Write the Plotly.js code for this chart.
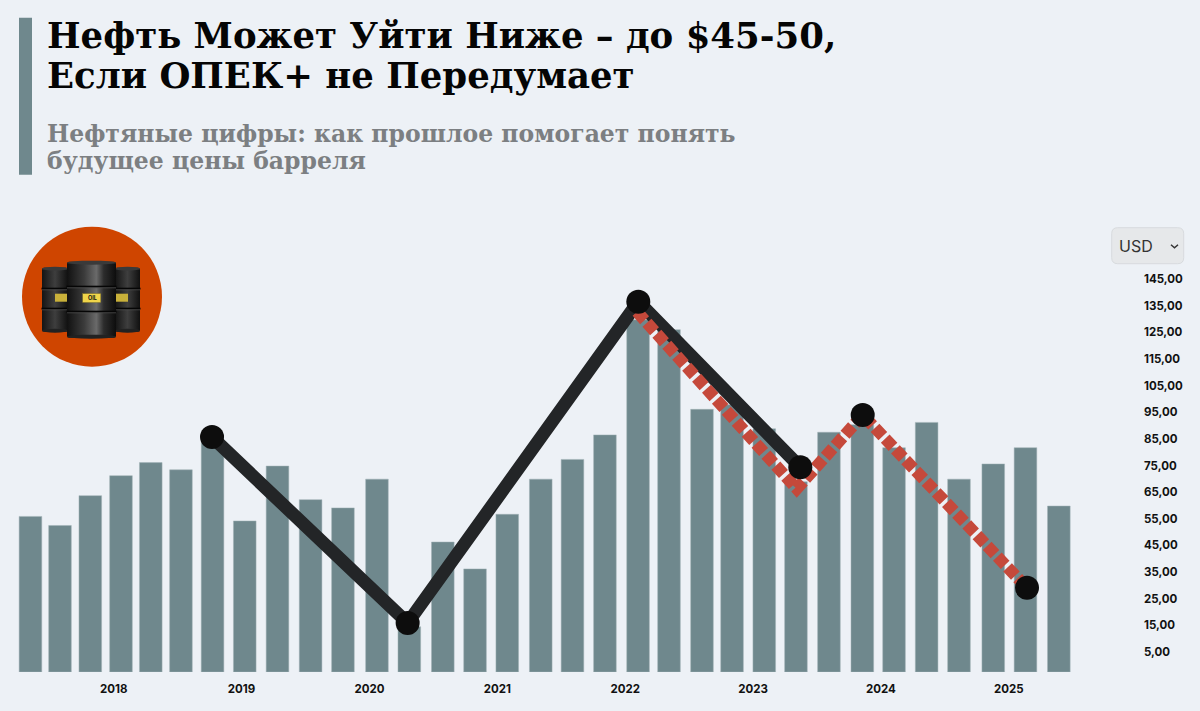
<!DOCTYPE html>
<html><head><meta charset="utf-8">
<script src="https://cdn.plot.ly/plotly-3.0.1.min.js"></script>
<style>html,body{margin:0;padding:0;background:#edf1f6}#c{width:1200px;height:711px}</style></head>
<body><div id="c"></div>
<script>
const periods = [2017.349,2017.580,2017.817,2018.057,2018.290,2018.526,2018.773,2019.025,2019.281,2019.540,2019.793,
  2020.059,2020.312,2020.574,2020.826,2021.078,2021.340,2021.588,2021.842,2022.101,2022.343,2022.601,2022.836,
  2023.088,2023.336,2023.594,2023.855,2024.103,2024.358,2024.611,2024.879,2025.131,2025.392];
const prices = [55.9,52.5,63.7,71.2,76.1,73.4,83.6,54.2,74.8,62.2,59.1,69.9,14.5,46.3,36.2,56.7,69.9,77.3,86.5,
  129.7,126,96.1,97.8,88.8,68.9,87.5,90.3,81.7,91.2,69.9,75.6,81.7,59.8];
const actualX = [2018.769,2020.299,2022.103,2023.370];
const actualY = [85.7,15.9,136.5,74.4];
const forecastX = [2022.093,2023.342,2023.858,2025.143];
const forecastY = [132.7,66.3,94.0,29.1];
const pivotX = [2018.769,2020.299,2022.103,2023.370,2023.858,2025.143];
const pivotY = [85.7,15.9,136.5,74.4,94.0,29.1];
const yearTicks = [2018,2019,2020,2021,2022,2023,2024,2025];
const priceTicks = [5,15,25,35,45,55,65,75,85,95,105,115,125,135,145];
const priceLabels = ["5,00","15,00","25,00","35,00","45,00","55,00","65,00","75,00","85,00","95,00","105,00","115,00","125,00","135,00","145,00"];
const titleLines = ["Нефть Может Уйти Ниже – до $45-50,","Если ОПЕК+ не Передумает"];
const subtitleLines = ["Нефтяные цифры: как прошлое помогает понять","будущее цены барреля"];

const W=1140, TOP=262.3, BOT=672.3, H=BOT-TOP, FLOOR=-2.5;
const px=x=>x/W, py=y=>(BOT-y)/H;
const rect=(x0,y0,x1,y1,extra)=>Object.assign({type:'rect',xref:'paper',yref:'paper',x0:px(x0),x1:px(x1),y0:py(y1),y1:py(y0),line:{width:0}},extra);
const text=(t,x,y,size,color,family,extra)=>Object.assign({text:t,xref:'paper',yref:'paper',x:px(x),y:py(y),xanchor:'left',yanchor:'middle',showarrow:false,align:'left',font:{size:size,color:color,family:family}},extra);
const SERIF='"DejaVu Serif",serif';

const barrel=(x,y,w,h,id)=>`<rect x="${x}" y="${y}" width="${w}" height="${h}" rx="2" fill="url(#${id})"/>`+
 `<ellipse cx="${x+w/2}" cy="${y+1}" rx="${w/2}" ry="2" fill="#3a3a3a"/>`+
 `<ellipse cx="${x+w/2}" cy="${y+h-1}" rx="${w/2}" ry="2" fill="#222"/>`;
const hoop=(x,y,w)=>`<rect x="${x-0.5}" y="${y}" width="${w+1}" height="1.8" fill="#050505"/><rect x="${x}" y="${y+1.8}" width="${w}" height="0.7" fill="#555"/>`;
const svg=`<svg xmlns="http://www.w3.org/2000/svg" viewBox="40 258 102 84" width="408" height="336"><defs>
<linearGradient id="g" x1="0" x2="1" y1="0" y2="0"><stop offset="0" stop-color="#111"/><stop offset=".35" stop-color="#3b3b3b"/><stop offset=".6" stop-color="#6a6a6a"/><stop offset=".75" stop-color="#2c2c2c"/><stop offset="1" stop-color="#0d0d0d"/></linearGradient>
<linearGradient id="s" x1="0" x2="1" y1="0" y2="0"><stop offset="0" stop-color="#141414"/><stop offset=".5" stop-color="#3e3e3e"/><stop offset="1" stop-color="#101010"/></linearGradient></defs>
${barrel(42,268,26,64,'s')}${hoop(42,288,26)}${hoop(42,308,26)}<rect x="55" y="294" width="13" height="8" fill="#c9b13a"/>
${barrel(115,268,25,64,'s')}${hoop(115,288,25)}${hoop(115,308,25)}<rect x="115" y="294" width="13" height="8" fill="#c9b13a"/>
${barrel(67,262,49,76,'g')}${hoop(67,286,49)}${hoop(67,311,49)}<rect x="82.7" y="294" width="18" height="8.7" fill="#f0d54a" stroke="#8a7a20" stroke-width=".4"/>
</svg>`;

const data=[
 {type:'bar',x:periods,y:prices.map(v=>v-FLOOR),base:FLOOR,width:0.177,marker:{color:'#6f888d',line:{color:'#a3b3b6',width:0.5}},hoverinfo:'skip'},
 {type:'scatter',mode:'lines',x:actualX,y:actualY,line:{color:'#232527',width:13},hoverinfo:'skip'},
 {type:'scatter',mode:'lines',x:forecastX,y:forecastY,line:{color:'#c5493b',width:12,dash:'11.3px,3.5px'},hoverinfo:'skip'},
 {type:'scatter',mode:'markers',x:pivotX,y:pivotY,marker:{color:'#0d0d0d',size:24},hoverinfo:'skip'}
];
const layout={
 width:1200,height:711,showlegend:false,paper_bgcolor:'#edf1f6',plot_bgcolor:'rgba(0,0,0,0)',
 margin:{l:0,r:60,t:TOP,b:711-BOT,pad:0},bargap:0,
 xaxis:{range:[2017.1108,2026.0267],tickmode:'array',tickvals:yearTicks,ticktext:yearTicks.map(String),showgrid:false,zeroline:false,showline:false,
   ticks:'outside',ticklen:6,tickcolor:'rgba(0,0,0,0)',tickfont:{family:'Inter',size:11.5,color:'#111',weight:700}},
 yaxis:{range:[FLOOR,FLOOR+H/2.664],side:'right',tickmode:'array',tickvals:priceTicks,ticktext:priceLabels,showgrid:false,zeroline:false,showline:false,
   ticks:'',ticklabelstandoff:3,tickfont:{family:'Inter',size:11.5,color:'#111',weight:700}},
 shapes:[
  rect(19,18,32,175,{fillcolor:'#6f888d'}),
  {type:'circle',xref:'paper',yref:'paper',x0:px(22),x1:px(162),y0:py(367),y1:py(227),fillcolor:'#cf4500',line:{width:0},layer:'below'},
  {type:'path',xref:'paper',yref:'paper',path:(()=>{const a=1111.7,b=1183.7,c=228,d=264,r=6;const X=px,Y=py;
    return `M${X(a+r)},${Y(c)} L${X(b-r)},${Y(c)} Q${X(b)},${Y(c)} ${X(b)},${Y(c+r)} L${X(b)},${Y(d-r)} Q${X(b)},${Y(d)} ${X(b-r)},${Y(d)} L${X(a+r)},${Y(d)} Q${X(a)},${Y(d)} ${X(a)},${Y(d-r)} L${X(a)},${Y(c+r)} Q${X(a)},${Y(c)} ${X(a+r)},${Y(c)} Z`;})(),
    fillcolor:'#e6e8ea',line:{color:'#d8dbde',width:1}},
  {type:'path',xref:'paper',yref:'paper',path:`M${px(1171)},${py(245)} L${px(1174.5)},${py(248)} L${px(1178)},${py(245)}`,line:{color:'#333',width:1.5}}
 ],
 images:[{source:'data:image/svg+xml;charset=utf-8,'+encodeURIComponent(svg),xref:'paper',yref:'paper',x:px(40),y:py(258),sizex:102/W,sizey:84/H,sizing:'stretch',xanchor:'left',yanchor:'top',layer:'above'}],
 annotations:[
  text('<b>'+titleLines[0]+'</b>',45,36,35.5,'#050505',SERIF),
  text('<b>'+titleLines[1]+'</b>',45,76,35.5,'#050505',SERIF),
  text('<b>'+subtitleLines[0]+'</b>',45,134,23.5,'#7c7f82',SERIF),
  text('<b>'+subtitleLines[1]+'</b>',45,161,23.5,'#7c7f82',SERIF),
  text('USD',1116.5,246,16,'#333','Inter'),
  text('<b>OIL</b>',92,298.5,5.5,'#111','Inter',{xanchor:'center'})
 ]
};
Plotly.newPlot('c',data,layout,{displayModeBar:false,staticPlot:true});
</script></body></html>
